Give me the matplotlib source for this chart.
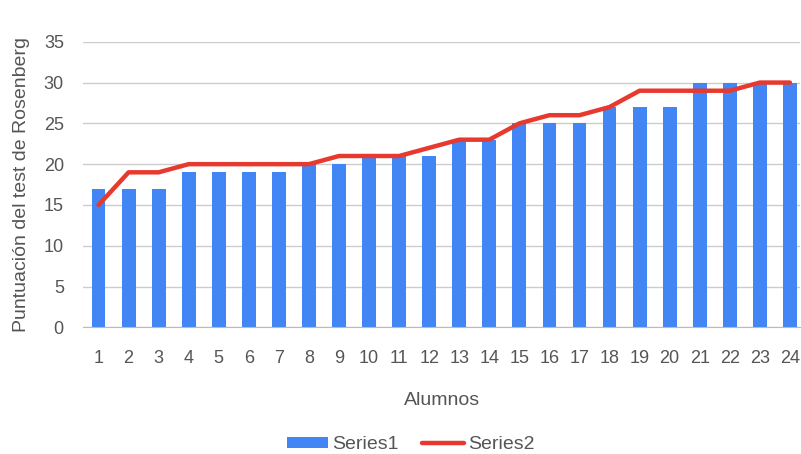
import matplotlib
matplotlib.use("Agg")
import matplotlib.pyplot as plt
import numpy as np

plt.rcParams['font.family'] = ['Liberation Sans', 'DejaVu Sans']

alumnos = list(range(1, 25))
series1 = [17, 17, 17, 19, 19, 19, 19, 20, 20, 21, 21, 21, 23, 23, 25, 25, 25, 27, 27, 27, 30, 30, 30, 30]
series2 = [15, 19, 19, 20, 20, 20, 20, 20, 21, 21, 21, 22, 23, 23, 25, 26, 26, 27, 29, 29, 29, 29, 30, 30]
yticks = [0, 5, 10, 15, 20, 25, 30, 35]

blue = '#4285F4'
red = '#E8392E'
txt = '#555555'

fig = plt.figure(figsize=(8.01, 4.54), dpi=100)
ax = fig.add_axes([0.104, 0.279, 0.895, 0.629])

bars = ax.bar(alumnos, series1, width=0.46, color=blue, label='Series1', zorder=2)
line, = ax.plot(alumnos, series2, color=red, linewidth=3.2, label='Series2', zorder=3,
                solid_joinstyle='round', solid_capstyle='round')

ax.set_xlim(0.493, 24.343)
ax.set_ylim(0, 35)
ax.set_yticks(yticks)
ax.set_xticks(alumnos)
ax.yaxis.grid(True, color='#cccccc', linewidth=1)
ax.set_axisbelow(True)
for s in ['top', 'right', 'left']:
    ax.spines[s].set_visible(False)
ax.spines['bottom'].set_color('#bbbbbb')
ax.tick_params(axis='both', length=0, labelsize=13, colors=txt)
ax.tick_params(axis='x', pad=16)
ax.tick_params(axis='y', pad=14)

ax.set_xlabel('Alumnos', fontsize=14, color=txt, labelpad=18)
ax.set_ylabel('Puntuación del test de Rosenberg', fontsize=14, color=txt, labelpad=10)

leg = fig.legend([bars, line], ['Series1', 'Series2'], loc='center',
                 bbox_to_anchor=(0.5125, 0.02), ncol=2, frameon=False,
                 fontsize=14, labelcolor=txt, handlelength=2.15, handleheight=0.45,
                 handletextpad=0.2, columnspacing=1.2)

fig.savefig('out.png', dpi=100)
